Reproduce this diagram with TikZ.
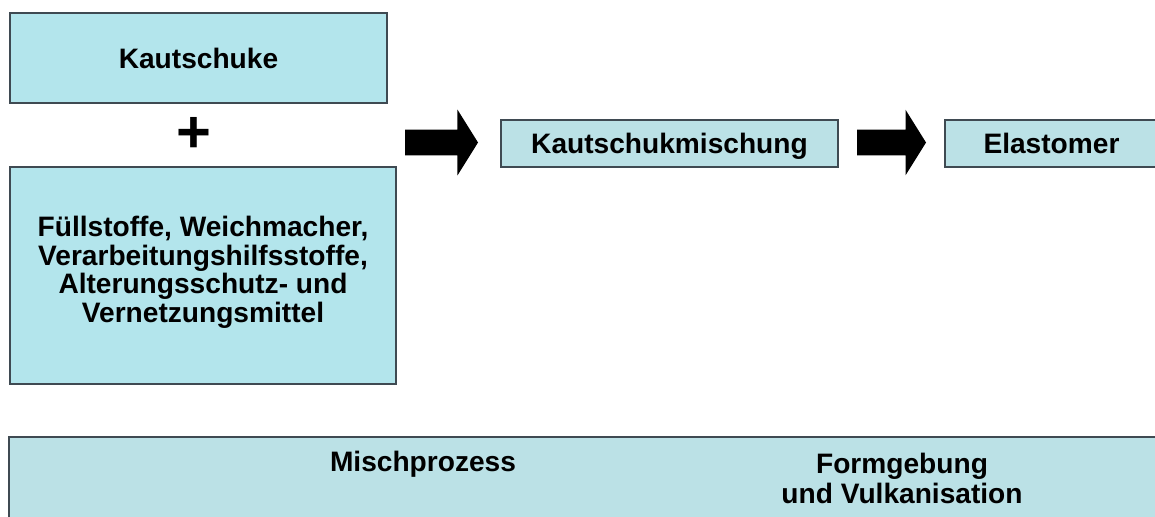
\documentclass[tikz,border=0pt]{standalone}
\usepackage{fontspec}
\setmainfont{Liberation Sans}
\usetikzlibrary{shapes}
\usetikzlibrary{shapes.arrows}
\usetikzlibrary{positioning}
\definecolor{boxcyan}{HTML}{B3E5EC}
\definecolor{boxpale}{HTML}{BBE1E6}
\definecolor{boxline}{HTML}{3F4A52}
\tikzstyle{stoff}=[
        rectangle,
        draw=boxline,
        line width=0.7pt,
        fill=boxcyan,
        align=center,
        inner sep=0pt,
        font=\bfseries\fontsize{16}{16.2}\selectfont
]
\tikzstyle{produkt}=[rectangle,draw=boxline,line width=0.7pt,fill=boxpale,inner sep=0pt,minimum height=0.94cm,text depth=0pt,font=\bfseries\fontsize{16}{19}\selectfont]
\tikzstyle{etikett}=[align=center,inner sep=0pt,font=\bfseries\fontsize{16}{17}\selectfont]
\tikzstyle{pfeil}=[single arrow,fill=black,draw=none,inner xsep=0pt,inner ysep=0.25cm,
single arrow head extend=0.4cm,single arrow tip angle=116]

\begin{document}
\begin{tikzpicture}
\useasboundingbox (0,0) rectangle (23.1,-10.32);
\node[stoff,minimum width=7.54cm,minimum height=1.8cm] (kaut) at (3.97,-1.16) {Kautschuke};
\node[inner sep=0pt,font=\bfseries\fontsize{34}{34}\selectfont] (plus) at (3.87,-2.69) {+};
\node[stoff,minimum width=7.72cm,minimum height=4.34cm,text depth=7pt] (zusatz) at (4.06,-5.51) {Füllstoffe, Weichmacher,\\Verarbeitungshilfsstoffe,\\Alterungsschutz- und\\Vernetzungsmittel};
\node[pfeil,minimum height=1.46cm] (p1) at (8.75,-2.85) {};
\node[produkt,minimum width=6.74cm] (mischung) at (13.39,-2.87) {Kautschukmischung};
\node[pfeil,minimum height=1.38cm] (p2) at (17.75,-2.85) {};
\node[produkt,minimum width=4.26cm] (elast) at (21.03,-2.87) {Elastomer};
%Prozessleiste
\node[produkt,minimum width=23.22cm,minimum height=1.86cm] (prozess) at (11.79,-9.67) {};
\node[etikett] (misch) at (8.46,-9.28) {Mischprozess};
\node[etikett] (form) at (18.04,-9.56) {Formgebung\\und Vulkanisation};
\end{tikzpicture}
\end{document}
